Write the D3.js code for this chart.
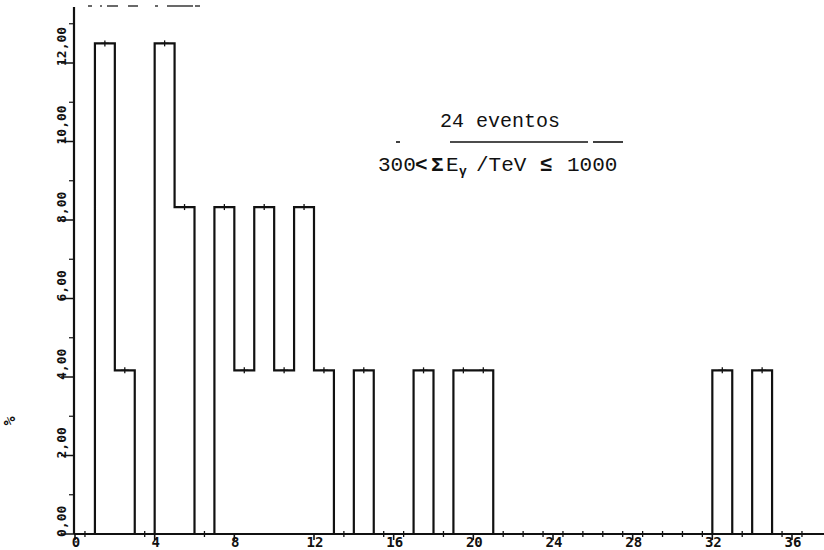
<!DOCTYPE html>
<html>
<head>
<meta charset="utf-8">
<script src="https://cdn.jsdelivr.net/npm/d3@7"></script>
<style>
  html, body { margin: 0; padding: 0; background: #fff; }
  svg { display: block; }
  text { fill: #111; }
</style>
</head>
<body>
<svg id="chart" width="824" height="550"></svg>
<script>
// Histogram of events per unit bin (percent of 24 events)
const binStarts = [0,1,2,3,4,5,6,7,8,9,10,11,12,13,14,15,16,17,18,19,20,21,22,23,24,25,26,27,28,29,30,31,32,33,34,35,36];
const percents  = [0,12.5,4.17,0,12.5,8.33,0,8.33,4.17,8.33,4.17,8.33,4.17,0,4.17,0,0,4.17,0,4.17,4.17,0,0,0,0,0,0,0,0,0,0,0,4.17,0,4.17,0,0];
const xTicks = [0,4,8,12,16,20,24,28,32,36];
const xTickLabels = ["0","4","8","12","16","20","24","28","32","36"];
const yTicks = [0,2,4,6,8,10,12];
const yTickLabels = ["0,00","2,00","4,00","6,00","8,00","10,00","12,00"];
const yMinorTicks = [1,3,5,7,9,11,13];
const titleText = "24 eventos";

const svg = d3.select("#chart");
const x = d3.scaleLinear().domain([0, 36]).range([75, 792]);
const y = d3.scaleLinear().domain([0, 12]).range([534, 63]);
const ink = "#111";
const mono = "'Liberation Mono', 'DejaVu Sans Mono', monospace";
const tickFont = "'DejaVu Sans Mono', monospace";

// axes frame
svg.append("line").attr("x1", x(0) - 1).attr("x2", 824).attr("y1", y(0)).attr("y2", y(0))
  .attr("stroke", ink).attr("stroke-width", 2.2);
svg.append("line").attr("x1", x(0) - 1).attr("x2", x(0) - 1).attr("y1", y(0)).attr("y2", 7)
  .attr("stroke", ink).attr("stroke-width", 2.2);

// faint broken top border
const topPieces = [[88,92],[100,102],[107,118],[128,138],[155,158],[167,193],[195,200]];
svg.append("g").selectAll("line").data(topPieces).join("line")
  .attr("x1", d => d[0]).attr("x2", d => d[1]).attr("y1", 6).attr("y2", 6)
  .attr("stroke", "#444").attr("stroke-width", 1.6);

// y axis ticks and labels
const yAxis = svg.append("g");
yAxis.selectAll("line.major").data(yTicks).join("line").attr("class", "major")
  .attr("x1", x(0) - 14).attr("x2", x(0)).attr("y1", d => y(d)).attr("y2", d => y(d))
  .attr("stroke", ink).attr("stroke-width", 1.5);
yAxis.selectAll("line.minor").data(yMinorTicks).join("line").attr("class", "minor")
  .attr("x1", x(0) - 6).attr("x2", x(0)).attr("y1", d => y(d)).attr("y2", d => y(d))
  .attr("stroke", ink).attr("stroke-width", 1.2);
yAxis.selectAll("text").data(yTicks).join("text")
  .attr("transform", d => `translate(66,${y(d) + 3}) rotate(-90)`)
  .attr("text-anchor", "start")
  .attr("font-family", tickFont).attr("font-size", 13).attr("font-weight", "bold")
  .text((d, i) => yTickLabels[i]);

// y unit label
svg.append("text")
  .attr("transform", "translate(15,421) rotate(-90)")
  .attr("text-anchor", "middle")
  .attr("font-family", tickFont).attr("font-size", 15).attr("font-weight", "bold")
  .text("%");

// x axis ticks and labels
const xAxis = svg.append("g");
xAxis.selectAll("line").data(xTicks).join("line")
  .attr("x1", d => x(d)).attr("x2", d => x(d)).attr("y1", y(0)).attr("y2", y(0) + 6)
  .attr("stroke", ink).attr("stroke-width", 1.6);
xAxis.selectAll("text").data(xTicks).join("text")
  .attr("x", d => x(d) + 1).attr("y", 546.5)
  .attr("text-anchor", "middle")
  .attr("font-family", tickFont).attr("font-size", 14).attr("font-weight", "bold")
  .text((d, i) => xTickLabels[i]);

// step outline of the histogram
const edges = binStarts.map((b, i) => [b, percents[i]]);
edges.push([binStarts[binStarts.length - 1] + 1, 0]);
const step = d3.line().x(d => x(d[0])).y(d => y(d[1])).curve(d3.curveStepAfter);
svg.append("path").attr("d", step(edges))
  .attr("fill", "none").attr("stroke", ink).attr("stroke-width", 2.2)
  .attr("stroke-linejoin", "miter");

// point markers at bin centres
const marks = svg.append("g");
binStarts.forEach((b, i) => {
  const cx = x(b + 0.5), cy = y(percents[i]);
  marks.append("line").attr("x1", cx).attr("x2", cx).attr("y1", cy - 3).attr("y2", cy + 3)
    .attr("stroke", ink).attr("stroke-width", 1.3);
  marks.append("line").attr("x1", cx - 4).attr("x2", cx + 4).attr("y1", cy).attr("y2", cy)
    .attr("stroke", ink).attr("stroke-width", 1.3);
});

// annotation block
svg.append("text")
  .attr("x", 500).attr("y", 127).attr("text-anchor", "middle")
  .attr("font-family", mono).attr("font-size", 20)
  .text(titleText);

const rulePieces = [[396,400],[450,588],[593,623]];
svg.append("g").selectAll("line").data(rulePieces).join("line")
  .attr("x1", d => d[0]).attr("x2", d => d[1]).attr("y1", 142).attr("y2", 142)
  .attr("stroke", ink).attr("stroke-width", 1.6);

const formula = svg.append("text")
  .attr("y", 171)
  .attr("font-family", mono).attr("font-size", 21);
formula.append("tspan").attr("x", 378).text("300");
formula.append("tspan").attr("x", 415).attr("font-weight", "bold").text("<");
formula.append("tspan").attr("x", 431).attr("font-weight", "bold").text("Σ");
formula.append("tspan").attr("x", 446).text("E");
formula.append("tspan").attr("x", 459).attr("dy", 4).attr("font-size", 13).attr("font-weight", "bold").text("γ");
formula.append("tspan").attr("x", 476).attr("dy", -4).text("/TeV");
formula.append("tspan").attr("x", 540).attr("font-weight", "bold").text("≤");
formula.append("tspan").attr("x", 567).text("1000");
</script>
</body>
</html>
